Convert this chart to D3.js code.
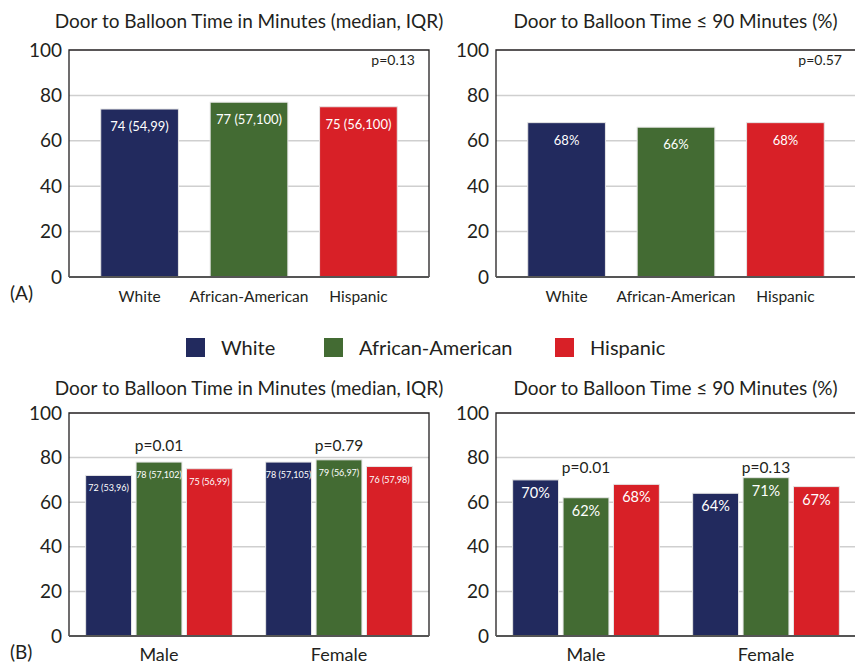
<!DOCTYPE html>
<html>
<head>
<meta charset="utf-8">
<script src="https://cdn.jsdelivr.net/npm/d3@7"></script>
<style>
  body { margin: 0; background: #fff; }
  svg { display: block; font-family: Lato, "Open Sans", sans-serif; }
</style>
</head>
<body>
<svg id="chart" width="855" height="666"></svg>
<script>
// ---- data ----
const groups = ["White", "African-American", "Hispanic"];
const sexes = ["Male", "Female"];
const colors = ["#222a5e", "#436b33", "#d82027"];

const yTicks = [0, 20, 40, 60, 80, 100];

// panel A
const medianAll = [74, 77, 75];
const iqrAll = ["54,99", "57,100", "56,100"];
const pctAll = [68, 66, 68];
const pMedianAll = "0.13";
const pPctAll = "0.57";

// panel B
const medianMale = [72, 78, 75];
const iqrMale = ["53,96", "57,102", "56,99"];
const medianFemale = [78, 79, 76];
const iqrFemale = ["57,105", "56,97", "57,98"];
const pctMale = [70, 62, 68];
const pctFemale = [64, 71, 67];
const pMedianSex = ["0.01", "0.79"];
const pPctSex = ["0.01", "0.13"];

const titleMedian = "Door to Balloon Time in Minutes (median, IQR)";
const titlePct = "Door to Balloon Time \u2264 90 Minutes (%)";

const svg = d3.select("#chart");
const textColor = "#231f20";

// draws frame, grid and y axis; returns y scale
function drawFrame(left, right, top, bottom, title, titleY) {
    const g = svg.append("g");
    let y = d3.scaleLinear().domain([0, 100]).range([bottom, top]);

    // grid
    g.selectAll("line.grid")
        .data(yTicks.filter(t => t > 0 && t < 100))
        .enter().append("line")
        .attr("x1", left).attr("x2", right)
        .attr("y1", d => y(d)).attr("y2", d => y(d))
        .attr("stroke", "#cfcfcf")
        .attr("stroke-width", 1.5);

    // frame (top, left, right)
    g.append("path")
        .attr("d", `M${left},${bottom} V${top} H${right} V${bottom}`)
        .attr("fill", "none")
        .attr("stroke", "#231f20")
        .attr("stroke-width", 1.3);

    // y tick labels
    g.selectAll("text.tick")
        .data(yTicks)
        .enter().append("text")
        .attr("x", left - 7)
        .attr("y", d => y(d))
        .attr("dy", "0.35em")
        .attr("text-anchor", "end")
        .attr("font-size", 19)
        .attr("fill", textColor)
        .text(d => d);

    // title
    svg.append("text")
        .attr("x", (left + Math.min(right, 855)) / 2)
        .attr("y", titleY)
        .attr("text-anchor", "middle")
        .attr("font-size", 19)
        .attr("fill", textColor)
        .text(title);

    return {g: g, y: y};
}

function drawBaseline(g, left, right, bottom) {
    g.append("line")
        .attr("x1", left).attr("x2", right)
        .attr("y1", bottom).attr("y2", bottom)
        .attr("stroke", "#555")
        .attr("stroke-width", 2);
}

// top panels: three bars
function topPanel(left, values, labels, pText, title) {
    const right = left + 360, top = 50, bottom = 277;
    const f = drawFrame(left, right, top, bottom, title, 28);
    let x = d3.scaleBand().domain(groups).range([left, right])
        .paddingInner(0.29).paddingOuter(0.29);

    f.g.selectAll("rect")
        .data(values)
        .enter().append("rect")
        .attr("x", (d, i) => x(groups[i]))
        .attr("y", d => f.y(d))
        .attr("width", x.bandwidth())
        .attr("height", d => bottom - f.y(d))
        .attr("fill", (d, i) => colors[i])
        .attr("stroke", "#e6e6e6")
        .attr("stroke-width", 1);

    f.g.selectAll("text.val")
        .data(values)
        .enter().append("text")
        .attr("x", (d, i) => x(groups[i]) + x.bandwidth() / 2)
        .attr("y", d => f.y(d) + 22)
        .attr("text-anchor", "middle")
        .attr("font-size", 13)
        .attr("fill", "#fff")
        .text((d, i) => labels[i]);

    f.g.selectAll("text.cat")
        .data(groups)
        .enter().append("text")
        .attr("x", d => x(d) + x.bandwidth() / 2)
        .attr("y", 302)
        .attr("text-anchor", "middle")
        .attr("font-size", 15.5)
        .attr("fill", textColor)
        .text(d => d);

    f.g.append("text")
        .attr("x", left + 346)
        .attr("y", 65)
        .attr("text-anchor", "end")
        .attr("font-size", 14)
        .attr("fill", textColor)
        .text("p=" + pText);

    drawBaseline(f.g, left, right, bottom);
}

// bottom panels: grouped bars by sex
function bottomPanel(left, valuesBySex, labelsBySex, labelSize, labelOffset, pTexts, pYs, title) {
    const right = left + 360, top = 413, bottom = 636;
    const f = drawFrame(left, right, top, bottom, title, 395);
    let x0 = d3.scaleBand().domain(sexes).range([left, right]).padding(0);
    let x1 = d3.scaleBand().domain(groups).range([0, x0.bandwidth()])
        .paddingInner(0.09).paddingOuter(0.33);

    sexes.forEach((sex, si) => {
        const vals = valuesBySex[si];
        const gx = x0(sex);
        const sg = f.g.append("g");

        sg.selectAll("rect")
            .data(vals)
            .enter().append("rect")
            .attr("x", (d, i) => gx + x1(groups[i]))
            .attr("y", d => f.y(d))
            .attr("width", x1.bandwidth())
            .attr("height", d => bottom - f.y(d))
            .attr("fill", (d, i) => colors[i])
            .attr("stroke", "#e6e6e6")
            .attr("stroke-width", 1);

        sg.selectAll("text.val")
            .data(vals)
            .enter().append("text")
            .attr("x", (d, i) => gx + x1(groups[i]) + x1.bandwidth() / 2)
            .attr("y", d => f.y(d) + labelOffset)
            .attr("text-anchor", "middle")
            .attr("font-size", labelSize)
            .attr("fill", "#fff")
            .text((d, i) => labelsBySex[si][i]);

        sg.append("text")
            .attr("x", gx + x0.bandwidth() / 2)
            .attr("y", pYs[si])
            .attr("text-anchor", "middle")
            .attr("font-size", 15.5)
            .attr("fill", textColor)
            .text("p=" + pTexts[si]);

        sg.append("text")
            .attr("x", gx + x0.bandwidth() / 2)
            .attr("y", 661)
            .attr("text-anchor", "middle")
            .attr("font-size", 18)
            .attr("fill", textColor)
            .text(sex);
    });

    drawBaseline(f.g, left, right, bottom);
}

topPanel(69, medianAll, medianAll.map((v, i) => `${v} (${iqrAll[i]})`), pMedianAll, titleMedian);
topPanel(496, pctAll, pctAll.map(v => v + "%"), pPctAll, titlePct);

bottomPanel(69, [medianMale, medianFemale],
    [medianMale.map((v, i) => `${v} (${iqrMale[i]})`), medianFemale.map((v, i) => `${v} (${iqrFemale[i]})`)],
    9, 16, pMedianSex, [451, 451], titleMedian);
bottomPanel(496, [pctMale, pctFemale],
    [pctMale.map(v => v + "%"), pctFemale.map(v => v + "%")],
    14.5, 18, pPctSex, [473, 473], titlePct);

// panel letters
svg.append("text").attr("x", 10).attr("y", 300).attr("font-size", 19)
    .attr("fill", textColor).text("(A)");
svg.append("text").attr("x", 10).attr("y", 659).attr("font-size", 19)
    .attr("fill", textColor).text("(B)");

// legend
const legendX = [186, 324, 555];
const legend = svg.append("g");
legend.selectAll("rect")
    .data(groups)
    .enter().append("rect")
    .attr("x", (d, i) => legendX[i])
    .attr("y", 338)
    .attr("width", 19)
    .attr("height", 19)
    .attr("fill", (d, i) => colors[i]);
legend.selectAll("text")
    .data(groups)
    .enter().append("text")
    .attr("x", (d, i) => legendX[i] + 35)
    .attr("y", 348)
    .attr("dy", "0.35em")
    .attr("font-size", 20)
    .attr("fill", textColor)
    .text(d => d);
</script>
</body>
</html>
